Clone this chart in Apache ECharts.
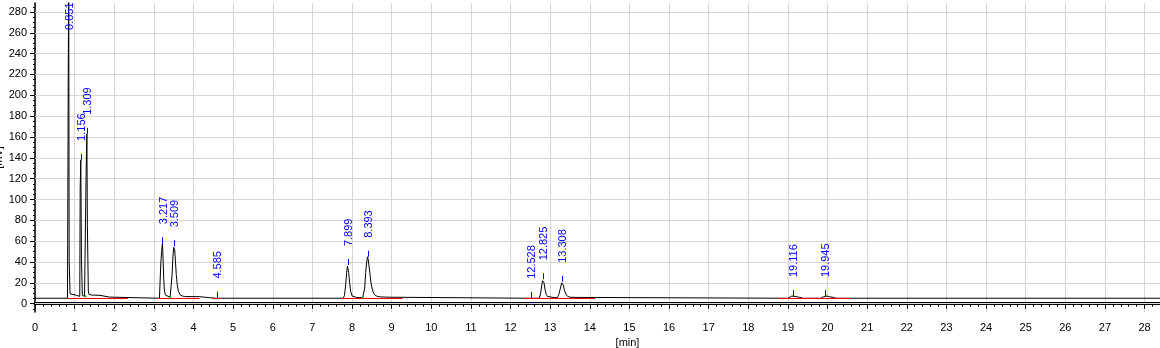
<!DOCTYPE html>
<html><head><meta charset="utf-8">
<script src="https://cdn.jsdelivr.net/npm/echarts@6/dist/echarts.min.js"></script>
<style>html,body{margin:0;padding:0;background:#fff}#c{width:1160px;height:348px}</style>
</head><body><div id="c"></div>
<script>
// chromatogram trace (min, mV)
const traceTime = [0,0.82,0.835,0.84,0.851,0.862,0.875,0.885,0.92,1.05,1.07,1.13,1.14,1.156,1.172,1.185,1.195,1.25,1.28,1.29,1.309,1.322,1.335,1.345,1.36,1.42,1.64,1.66,1.88,1.89,
3.14,3.16,3.175,3.195,3.217,3.235,3.25,3.265,3.29,3.33,3.41,3.43,3.46,3.48,3.50,3.509,3.525,3.545,3.565,3.59,3.62,3.66,3.72,3.8,4.14,4.15,
4.56,4.585,4.61,
7.78,7.81,7.84,7.865,7.885,7.899,7.915,7.94,7.965,8.0,8.05,8.12,8.27,8.30,8.32,8.345,8.37,8.393,8.41,8.43,8.455,8.48,8.51,8.545,8.585,8.64,8.72,8.91,8.92,
12.51,12.528,12.55,12.73,12.76,12.79,12.81,12.825,12.845,12.87,12.9,12.93,12.98,13.1,13.15,13.18,13.22,13.26,13.29,13.308,13.33,13.36,13.4,13.44,13.5,13.65,13.68,
19.0,19.05,19.1,19.14,19.2,19.3,19.38,19.82,19.88,19.93,19.98,20.05,20.15,20.22,28.39];
const traceSignal = [5.2,5.2,6,230,300,41,41,9.5,8.5,8,7,7,111,138,44,44,8,7,7,125,163,75,75,13,9,8.3,8,6.3,6.3,5.2,
5.2,7,39,50,58,40,23,13,8.3,6.5,6.1,6.5,28,45,54,55,52,40,28,18,12,8.5,7.3,6.8,6.7,5.2,
5.2,5.8,5.2,
5.2,8,18,30,36,37,30,20,12,7.5,6.5,5.8,5.8,6.5,15,30,40,45,42,36,28,20,14,10,8,7,6.5,6.2,5.2,
5.2,5.6,5.2,5.2,10,18,22,23.4,20,14,9,7,6,5.8,5.6,5.8,9,15,20,21,18,13,9,7,6.2,6,5.2,
5.2,6.2,7.3,7.3,6.8,6,5.2,5.2,6.3,7.3,7.3,6.6,6,5.2,5.2];

// detected peaks
const peakTimes = [0.851,1.156,1.309,3.217,3.509,4.585,7.899,8.393,12.528,12.825,13.308,19.116,19.945];
const peakApex  = [300,138,163,58,55,5.8,37,45,5.6,23.4,21,7.3,7.3];

// integration baselines
const baselineLevel = 5.2;
const baselineStart = [0.82,3.09,4.48,7.72,12.34,18.76];
const baselineEnd   = [2.34,4.15,4.69,9.28,14.13,20.59];

// valley markers
const valleyTimes  = [1.28,3.41,8.27];
const valleySignal = [7,6.1,5.8];

// y-axis tick labels and minor ticks
const yTickValues  = [0,20,40,60,80,100,120,140,160,180,200,220,240,260,280];
const yMinorValues = [-5,5,10,15,25,30,35,45,50,55,65,70,75,85,90,95,105,110,115,125,130,135,145,150,155,165,170,175,185,190,195,205,210,215,225,230,235,245,250,255,265,270,275,285];

const FONT = '"Liberation Sans", Arial, sans-serif';
const chart = echarts.init(document.getElementById('c'), null, {renderer:'canvas'});

const option = {
  animation:false,
  backgroundColor:'#fff',
  grid:{left:35, right:0, top:3, bottom:36, containLabel:false, outerBoundsMode:'none'},
  xAxis:[{
    type:'value', min:0, max:28.39, interval:1, position:'bottom',
    axisLine:{lineStyle:{color:'#000', width:3}},
    axisTick:{length:5, lineStyle:{color:'#000', width:1}},
    minorTick:{show:true, splitNumber:5, length:3, lineStyle:{color:'#000', width:1}},
    axisLabel:{margin:10, fontSize:11, fontFamily:FONT, color:'#000', showMaxLabel:false},
    splitLine:{show:true, lineStyle:{color:'#d6d6d6', width:1}},
    name:'[min]', nameLocation:'middle', nameGap:21,
    nameTextStyle:{fontSize:11, fontFamily:FONT, color:'#000', padding:[0,0,0,60]}
  },{
    type:'value', min:0, max:28.39, position:'top',
    axisLine:{show:true, lineStyle:{color:'#000', width:1.5}},
    axisTick:{show:false}, axisLabel:{show:false}, splitLine:{show:false}
  }],
  yAxis:[{
    type:'value', min:-8, max:288.6, position:'left',
    axisLine:{show:true, lineStyle:{color:'#000', width:1.5}},
    axisTick:{show:true, length:5, customValues:yTickValues, lineStyle:{color:'#000', width:1}},
    axisLabel:{margin:8, fontSize:11, fontFamily:FONT, color:'#000', customValues:yTickValues},
    splitLine:{show:false},
    name:'[mV]', nameLocation:'middle', nameGap:31, nameRotate:90, nameMoveOverlap:false,
    nameTextStyle:{fontSize:11, fontFamily:FONT, color:'#000'}
  },{
    type:'value', min:-8, max:288.6, position:'left',
    axisLine:{show:false},
    axisTick:{show:true, length:2, customValues:yMinorValues, lineStyle:{color:'#000', width:1}},
    axisLabel:{show:false}, splitLine:{show:false}
  }],
  series:[
    {
      type:'line', data:traceTime.map((t,i)=>[t,traceSignal[i]]),
      showSymbol:false, symbol:'none', lineStyle:{color:'#000', width:1}, z:2, silent:true,
      markLine:{
        silent:true, symbol:'none', animation:false, z:1,
        label:{show:false},
        lineStyle:{color:'#d6d6d6', width:1, type:'solid'},
        emphasis:{disabled:true},
        data:yTickValues.map(v=>({yAxis:v}))
      }
    },
    {
      type:'lines', coordinateSystem:'cartesian2d', z:3, silent:true,
      lineStyle:{color:'#ff0000', width:1.2, opacity:1},
      data:baselineStart.map((s,i)=>({coords:[[s,baselineLevel],[baselineEnd[i],baselineLevel]]}))
    },
    {
      type:'scatter', z:4, silent:true, symbol:'rect', symbolSize:2,
      itemStyle:{color:'#00c000'},
      data:valleyTimes.map((t,i)=>[t,valleySignal[i]])
    },
    {
      type:'custom', z:5, silent:true,
      data:peakTimes.map((t,i)=>[t,peakApex[i]]),
      encode:{x:0,y:1},
      renderItem:function(params, api){
        const t = api.value(0), h = api.value(1);
        const p = api.coord([t,h]);
        const cs = params.coordSys;
        const x = Math.round(p[0]) + 0.5;
        const children = [];
        if (p[1] >= cs.y) {
          children.push({type:'line', shape:{x1:x, y1:p[1], x2:x, y2:p[1]-6},
            style:{stroke:'#0000ff', lineWidth:1}});
        }
        const anchor = Math.max(p[1]-6-13, cs.y+27);
        children.push({type:'text', x:p[0]+1, y:anchor, rotation:Math.PI/2,
          style:{text:t.toFixed(3), fill:'#0000ff', font:'11px ' + FONT,
                 align:'left', verticalAlign:'middle', textAlign:'left', textVerticalAlign:'middle'}});
        return {type:'group', children:children};
      }
    }
  ]
};
chart.setOption(option);
</script>
</body></html>
